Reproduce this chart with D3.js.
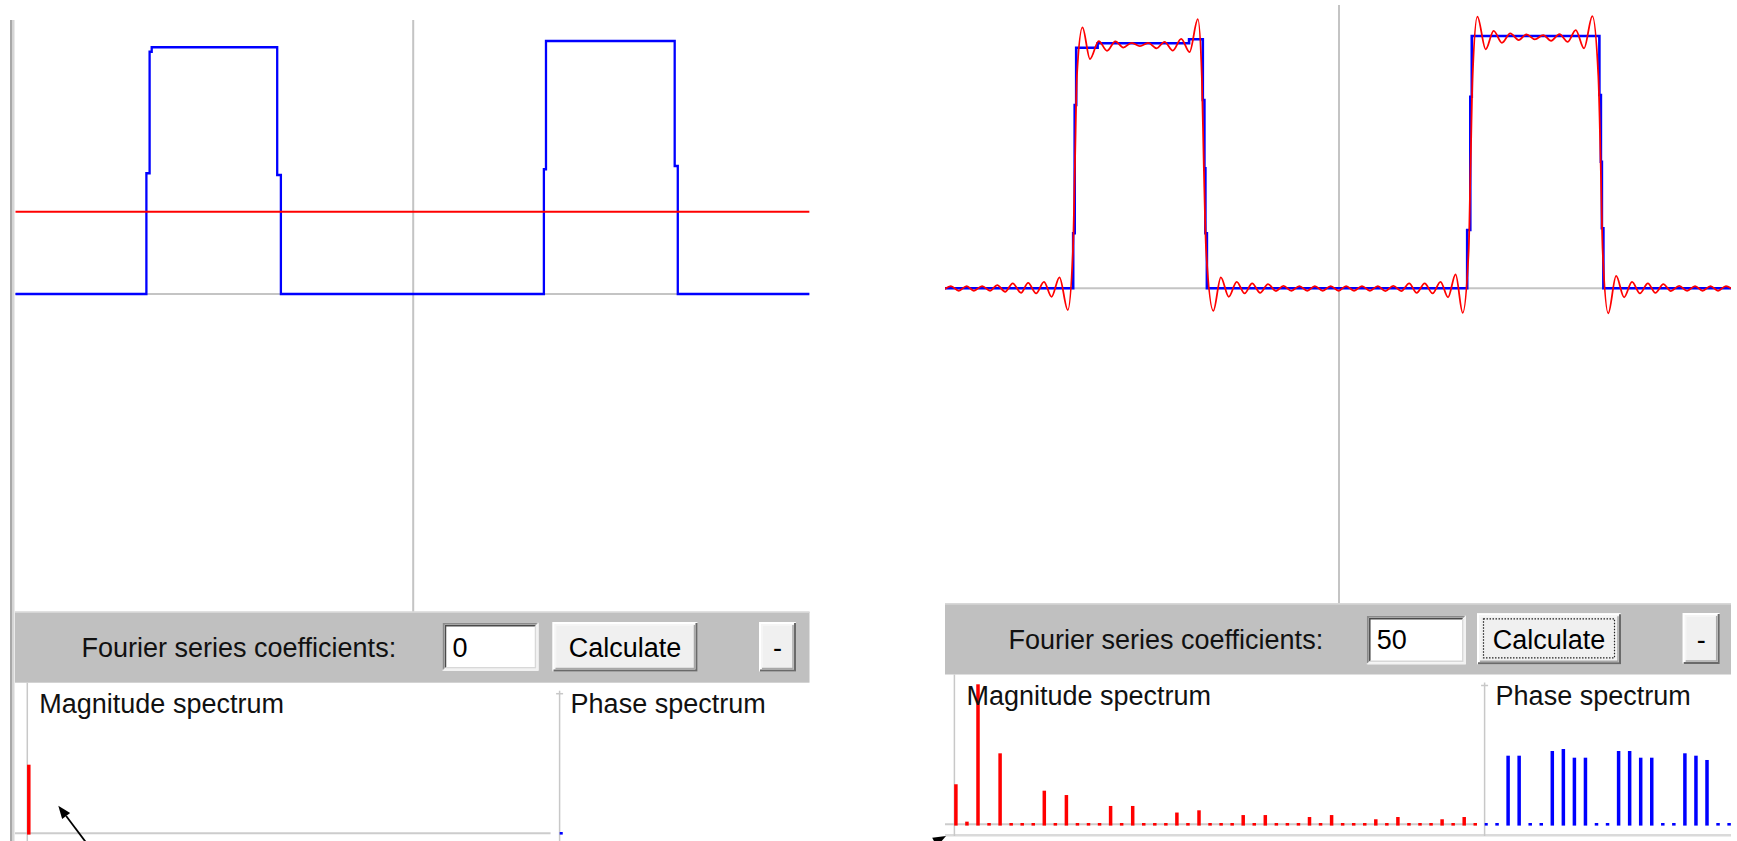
<!DOCTYPE html>
<html lang="en">
  <head>
    <meta charset="UTF-8" />
    <title>Fourier series</title>
    <script src="https://d3js.org/d3.v7.min.js"></script>
    <style>
      body { margin: 0; background: #fff; }
      svg { display: block; font-family: 'Liberation Sans', Arial, sans-serif; }
    </style>
  </head>
  <body>
    <svg width="1737" height="841"></svg>
    <script>
      // time runs over two periods, t in [-1, 1]; amplitude of the drawn pulse ~ 1
      var coefLeft = '0'
      var coefRight = '50'

      // drawn signal (blue), sample-and-hold points
      var signalLeftT = [-1.003, -0.6729, -0.6648, -0.6595, -0.343, -0.3337, 0.3296, 0.3349, 0.6595, 0.6673, 1.0]
      var signalLeftV = [0, 0.483, 0.969, 0.987, 0.476, 0, 0.499, 1.012, 0.512, 0, 0]
      var signalRightT = [-0.994, -0.6704, -0.6666, -0.6628, -0.6088, -0.3781, -0.3435, -0.3395, -0.337, -0.3332,
        0.3233, 0.3311, 0.3349, 0.6567, 0.6605, 0.663, 0.6668, 0.989]
      var signalRightV = [0, 0.22, 0.733, 0.962, 0.98, 0.996, 0.753, 0.48, 0.22, 0,
        0.233, 0.766, 1.009, 0.773, 0.506, 0.24, 0, 0]

      // fourier series approximation (red)
      var approxLeftT = [-1.003, 1.0]
      var approxLeftV = [0.329, 0.329]
      var approxRightT = [
        -0.994, -0.979, -0.959, -0.939, -0.921, -0.900, -0.880, -0.862, -0.842, -0.823,
        -0.802, -0.784, -0.764, -0.744, -0.725, -0.705, -0.684, -0.671, -0.666, -0.661,
        -0.647, -0.628, -0.606, -0.585, -0.564, -0.544, -0.523, -0.502, -0.481, -0.460,
        -0.440, -0.419, -0.398, -0.377, -0.356, -0.346, -0.341, -0.335, -0.317, -0.298,
        -0.278, -0.258, -0.238, -0.219, -0.199, -0.179, -0.159, -0.140, -0.120, -0.100,
        -0.080, -0.061, -0.041, -0.021, -0.001, 0.018, 0.038, 0.058, 0.078, 0.098,
        0.117, 0.137, 0.157, 0.177, 0.196, 0.216, 0.236, 0.256, 0.275, 0.294,
        0.312, 0.327, 0.332, 0.337, 0.349, 0.370, 0.390, 0.411, 0.432, 0.453,
        0.473, 0.494, 0.515, 0.535, 0.556, 0.577, 0.597, 0.618, 0.639, 0.654,
        0.660, 0.665, 0.679, 0.699, 0.719, 0.739, 0.759, 0.779, 0.798, 0.818,
        0.837, 0.858, 0.878, 0.898, 0.917, 0.937, 0.956, 0.976, 0.989
      ]
      var approxRightV = [
        -0.003, 0.009, -0.010, 0.009, -0.010, 0.009, -0.010, 0.013, -0.014, 0.020,
        -0.018, 0.022, -0.020, 0.026, -0.034, 0.044, -0.087, 0.150, 0.493, 0.850,
        1.044, 0.917, 0.989, 0.950, 0.988, 0.963, 0.982, 0.969, 0.982, 0.960,
        0.986, 0.951, 0.998, 0.945, 1.077, 0.850, 0.493, 0.150, -0.090, 0.044,
        -0.034, 0.026, -0.020, 0.020, -0.018, 0.017, -0.011, 0.010, -0.010, 0.009,
        -0.010, 0.009, -0.010, 0.009, -0.010, 0.009, -0.010, 0.009, -0.010, 0.009,
        -0.011, 0.010, -0.011, 0.020, -0.018, 0.020, -0.020, 0.026, -0.036, 0.056,
        -0.098, 0.150, 0.505, 0.850, 1.087, 0.956, 1.030, 0.982, 1.020, 0.993,
        1.016, 0.996, 1.013, 0.990, 1.017, 0.986, 1.033, 0.960, 1.089, 0.850,
        0.501, 0.150, -0.100, 0.050, -0.036, 0.026, -0.020, 0.020, -0.018, 0.017,
        -0.011, 0.010, -0.010, 0.009, -0.010, 0.009, -0.010, 0.009, 0.000
      ]

      // spectra: magnitude relative to tallest bar, phase in radians
      var magLeft = [0.49]
      var phaseLeft = [0]
      var magRight = [
        0.286, 0.019, 1.0, 0, 0.507, 0, 0, 0, 0.240, 0,
        0.209, 0, 0, 0, 0.131, 0, 0.131, 0, 0, 0,
        0.084, 0, 0.100, 0, 0, 0, 0.066, 0, 0.066, 0,
        0, 0, 0.052, 0, 0.066, 0, 0, 0, 0.036, 0,
        0.052, 0, 0, 0, 0.036, 0, 0.052, 0
      ]
      var phaseRight = [
        0, 0, 1.437, 1.437, 0, 0, 1.535, 1.577, 1.395, 1.395,
        0, 0, 1.535, 1.535, 1.395, 1.395, 0, 0, 1.487, 1.437,
        1.347, 0, 0
      ]

      var svg = d3.select('svg')
      var defs = svg.append('defs')

      var panels = [
        {
          id: 'l', coef: coefLeft, focus: false, smooth: false,
          plot: { x0: 15, x1: 809.5, top: 20, bottom: 611.7 },
          centerX: 413.2, halfW: 396.5, zeroY: 294, unitH: 250,
          tool: { top: 611.7, bottom: 682.7, textX: 81.5, textY: 657,
            input: [442.5, 622.7, 96, 48], calc: [552.5, 622, 145, 49.5], minus: [759, 622, 37, 49.5] },
          spec: { base: 833.3, magAxisX: 27.3, divX: 559.6, labelY: 713, bottom: 841, band: null },
          signal: d3.zip(signalLeftT, signalLeftV), approx: d3.zip(approxLeftT, approxLeftV),
          mag: magLeft, phase: phaseLeft
        },
        {
          id: 'r', coef: coefRight, focus: true, smooth: true,
          plot: { x0: 945, x1: 1731, top: 5, bottom: 603.5 },
          centerX: 1339, halfW: 396.5, zeroY: 288.3, unitH: 250,
          tool: { top: 603.5, bottom: 674.5, textX: 1008.5, textY: 649,
            input: [1366.8, 615.7, 99, 48.6], calc: [1477, 613.3, 144, 51], minus: [1682.7, 613, 37, 51] },
          spec: { base: 824.3, magAxisX: 954.4, divX: 1484.6, labelY: 705, bottom: 836, band: 834 },
          signal: d3.zip(signalRightT, signalRightV), approx: d3.zip(approxRightT, approxRightV),
          mag: magRight, phase: phaseRight
        }
      ]

      // 3d box like the old windows widgets
      function bevel(g, b, sunken, fill) {
        var x = b[0], y = b[1], w = b[2], h = b[3]
        g.append('rect').attr('x', x).attr('y', y).attr('width', w).attr('height', h).attr('fill', fill)
        var lt = sunken ? '#8a8a8a' : '#ffffff'
        var rb = sunken ? '#f2f2f2' : '#6a6a6a'
        var lt2 = sunken ? '#4a4a4a' : '#f6f6f6'
        var rb2 = sunken ? '#d8d8d8' : '#a8a8a8'
        g.append('path').attr('d', `M${x + 1},${y + h - 1} V${y + 1} H${x + w - 1}`)
          .attr('fill', 'none').attr('stroke', lt).attr('stroke-width', 2)
        g.append('path').attr('d', `M${x + 1},${y + h - 1} H${x + w - 1} V${y + 1}`)
          .attr('fill', 'none').attr('stroke', rb).attr('stroke-width', 2)
        g.append('path').attr('d', `M${x + 3},${y + h - 3} V${y + 3} H${x + w - 3}`)
          .attr('fill', 'none').attr('stroke', lt2).attr('stroke-width', 1.5)
        g.append('path').attr('d', `M${x + 3},${y + h - 3} H${x + w - 3} V${y + 3}`)
          .attr('fill', 'none').attr('stroke', rb2).attr('stroke-width', 1.5)
      }

      panels.forEach(function(p) {
        var g = svg.append('g')
        var x = d3.scaleLinear().domain([-1, 1]).range([p.centerX - p.halfW, p.centerX + p.halfW])
        var y = d3.scaleLinear().domain([0, 1]).range([p.zeroY, p.zeroY - p.unitH])

        defs.append('clipPath').attr('id', 'clip-' + p.id)
          .append('rect')
          .attr('x', p.plot.x0).attr('y', p.plot.top)
          .attr('width', p.plot.x1 - p.plot.x0).attr('height', p.plot.bottom - p.plot.top)

        var plot = g.append('g').attr('clip-path', `url(#clip-${p.id})`)

        // axes through zero
        plot.append('line')
          .attr('x1', p.plot.x0).attr('x2', p.plot.x1)
          .attr('y1', y(0)).attr('y2', y(0))
          .attr('stroke', '#c4c4c4').attr('stroke-width', 2)
        plot.append('line')
          .attr('x1', x(0)).attr('x2', x(0))
          .attr('y1', p.plot.top).attr('y2', p.plot.bottom)
          .attr('stroke', '#c4c4c4').attr('stroke-width', 2)

        var stepLine = d3.line()
          .x(d => x(d[0])).y(d => y(d[1]))
          .curve(d3.curveStepAfter)
        plot.append('path')
          .attr('d', stepLine(p.signal))
          .attr('fill', 'none').attr('stroke', '#0000ff')
          .attr('stroke-width', p.smooth ? 2.6 : 2.3)

        var approxLine = d3.line()
          .x(d => x(d[0])).y(d => y(d[1]))
          .curve(p.smooth ? d3.curveMonotoneX : d3.curveLinear)
        plot.append('path')
          .attr('d', approxLine(p.approx))
          .attr('fill', 'none').attr('stroke', '#ff0000')
          .attr('stroke-width', p.smooth ? 1.8 : 2.2)

        // toolbar
        var t = p.tool
        g.append('rect')
          .attr('x', p.plot.x0).attr('y', t.top)
          .attr('width', p.plot.x1 - p.plot.x0).attr('height', t.bottom - t.top)
          .attr('fill', '#c0c0c0')
        g.append('line')
          .attr('x1', p.plot.x0).attr('x2', p.plot.x1)
          .attr('y1', t.top + 0.5).attr('y2', t.top + 0.5)
          .attr('stroke', '#d6d6d6').attr('stroke-width', 1.5)
        g.append('text')
          .attr('x', t.textX).attr('y', t.textY)
          .attr('font-size', 27).attr('fill', '#111')
          .text('Fourier series coefficients:')

        bevel(g, t.input, true, '#ffffff')
        g.append('text')
          .attr('x', t.input[0] + 10).attr('y', t.textY)
          .attr('font-size', 27).attr('fill', '#000')
          .text(p.coef)

        bevel(g, t.calc, false, '#f0f0f0')
        g.append('text')
          .attr('x', t.calc[0] + t.calc[2] / 2).attr('y', t.textY)
          .attr('text-anchor', 'middle')
          .attr('font-size', 27).attr('fill', '#000')
          .text('Calculate')
        if (p.focus) {
          g.append('rect')
            .attr('x', t.calc[0] + 6.5).attr('y', t.calc[1] + 5.5)
            .attr('width', t.calc[2] - 13).attr('height', t.calc[3] - 12)
            .attr('fill', 'none').attr('stroke', '#222')
            .attr('stroke-width', 1.2).attr('stroke-dasharray', '1.5,1.5')
        }

        bevel(g, t.minus, false, '#f0f0f0')
        g.append('text')
          .attr('x', t.minus[0] + t.minus[2] / 2).attr('y', t.textY)
          .attr('text-anchor', 'middle')
          .attr('font-size', 27).attr('fill', '#000')
          .text('-')

        // spectra
        var s = p.spec
        var binW = 11.05
        if (s.band) {
          g.append('rect')
            .attr('x', p.plot.x0).attr('y', s.band)
            .attr('width', p.plot.x1 - p.plot.x0).attr('height', 2.5)
            .attr('fill', '#dadada')
        }
        g.append('line')
          .attr('x1', p.plot.x0).attr('x2', s.divX - 9)
          .attr('y1', s.base).attr('y2', s.base)
          .attr('stroke', '#cccccc').attr('stroke-width', 2)
        g.append('line')
          .attr('x1', s.magAxisX).attr('x2', s.magAxisX)
          .attr('y1', t.bottom).attr('y2', s.bottom)
          .attr('stroke', '#c8c8c8').attr('stroke-width', 1.5)
        g.append('line')
          .attr('x1', s.divX).attr('x2', s.divX)
          .attr('y1', t.bottom + 8).attr('y2', s.bottom)
          .attr('stroke', '#c8c8c8').attr('stroke-width', 1.5)
        g.append('line')
          .attr('x1', s.divX - 3.5).attr('x2', s.divX + 3.5)
          .attr('y1', t.bottom + 11).attr('y2', t.bottom + 11)
          .attr('stroke', '#c8c8c8').attr('stroke-width', 1.5)

        var magX = d3.scaleLinear().domain([0, 1]).range([s.magAxisX + 1.5, s.magAxisX + 1.5 + binW])
        var magY = d3.scaleLinear().domain([0, 1]).range([s.base, s.base - 140])
        var phX = d3.scaleLinear().domain([0, 1]).range([s.divX + 1.4, s.divX + 1.4 + binW])
        var phY = d3.scaleLinear().domain([0, Math.PI]).range([s.base, s.base - 150])

        defs.append('clipPath').attr('id', 'clipph-' + p.id)
          .append('rect')
          .attr('x', s.divX).attr('y', t.bottom)
          .attr('width', p.plot.x1 - s.divX).attr('height', s.bottom - t.bottom)

        g.append('g').selectAll('rect')
          .data(p.mag)
          .enter()
          .append('rect')
          .attr('x', (d, i) => magX(i) - 1.75)
          .attr('width', 3.5)
          .attr('y', d => Math.min(magY(d), s.base - 1.3))
          .attr('height', d => Math.max(s.base - magY(d), 1.3) + 1.3)
          .attr('fill', '#ff0000')

        g.append('g').attr('clip-path', `url(#clipph-${p.id})`)
          .selectAll('rect')
          .data(p.phase)
          .enter()
          .append('rect')
          .attr('x', (d, i) => phX(i) - 1.75)
          .attr('width', 3.5)
          .attr('y', d => Math.min(phY(d), s.base - 1.3))
          .attr('height', d => Math.max(s.base - phY(d), 1.3) + 1.3)
          .attr('fill', '#0000ff')

        g.append('text')
          .attr('x', s.magAxisX + 12).attr('y', s.labelY)
          .attr('font-size', 27).attr('fill', '#111')
          .text('Magnitude spectrum')
        g.append('text')
          .attr('x', s.divX + 11).attr('y', s.labelY)
          .attr('font-size', 27).attr('fill', '#111')
          .text('Phase spectrum')
      })

      // left frame edge of the first window
      svg.append('rect').attr('x', 10).attr('y', 20).attr('width', 2.5).attr('height', 821).attr('fill', '#a8a8a8')
      svg.append('rect').attr('x', 12.5).attr('y', 20).attr('width', 2).attr('height', 821).attr('fill', '#d6d6d6')

      // annotation arrows
      function arrow(x1, y1, x2, y2) {
        var a = Math.atan2(y2 - y1, x2 - x1)
        var len = 13, half = 5
        var bx = x2 - len * Math.cos(a), by = y2 - len * Math.sin(a)
        svg.append('line')
          .attr('x1', x1).attr('y1', y1).attr('x2', bx).attr('y2', by)
          .attr('stroke', '#000').attr('stroke-width', 1.8)
        svg.append('path')
          .attr('d', `M${x2},${y2} L${bx + half * Math.sin(a)},${by - half * Math.cos(a)} L${bx - half * Math.sin(a)},${by + half * Math.cos(a)} Z`)
          .attr('fill', '#000')
      }
      arrow(88, 845, 58.3, 805.7)
      arrow(922, 849, 946, 836)
    </script>
  </body>
</html>
